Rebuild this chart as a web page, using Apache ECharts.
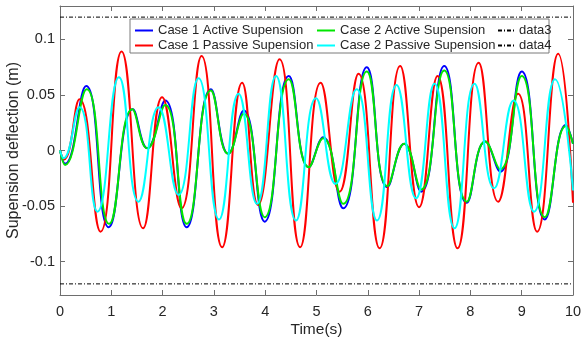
<!DOCTYPE html>
<html>
<head>
<meta charset="utf-8">
<script src="https://cdn.jsdelivr.net/npm/echarts@6/dist/echarts.min.js"></script>
<style>html,body{margin:0;padding:0;background:#fff}#c{width:582px;height:342px}</style>
</head>
<body>
<div id="c"></div>
<script>
// [time (s), deflection (m)]
const case1Active = [[0,0],[0.10,-0.012],[0.51,0.058],[0.95,-0.069],[1.42,0.037],[1.70,0.002],[2.05,0.045],[2.47,-0.069],[2.94,0.055],[3.28,-0.003],[3.58,0.036],[3.99,-0.064],[4.46,0.067],[4.85,-0.015],[5.13,0.012],[5.52,-0.052],[5.98,0.075],[6.38,-0.033],[6.71,0.006],[7.04,-0.037],[7.49,0.076],[7.93,-0.047],[8.29,0.008],[8.58,-0.019],[9.00,0.071],[9.45,-0.062],[9.86,0.023],[10,0.006]];
const case1Passive = [[0,0],[0.08,-0.008],[0.38,0.046],[0.79,-0.073],[1.20,0.089],[1.62,-0.070],[1.99,0.048],[2.37,-0.052],[2.76,0.085],[3.16,-0.087],[3.55,0.061],[3.86,-0.049],[4.28,0.082],[4.68,-0.087],[5.08,0.061],[5.45,-0.037],[5.82,0.069],[6.23,-0.088],[6.63,0.076],[7.00,-0.051],[7.36,0.067],[7.75,-0.088],[8.16,0.079],[8.54,-0.046],[8.93,0.051],[9.30,-0.073],[9.71,0.087],[10,-0.047]];
const case2Active = [[0,0],[0.10,-0.013],[0.52,0.055],[0.96,-0.066],[1.41,0.037],[1.70,0.002],[2.05,0.041],[2.47,-0.066],[2.94,0.054],[3.28,-0.003],[3.58,0.033],[3.99,-0.060],[4.46,0.064],[4.85,-0.015],[5.13,0.011],[5.52,-0.048],[5.98,0.071],[6.38,-0.032],[6.71,0.006],[7.04,-0.035],[7.49,0.072],[7.93,-0.046],[8.29,0.008],[8.58,-0.017],[9.00,0.067],[9.45,-0.060],[9.86,0.022],[10,0.006]];
const case2Passive = [[0,0],[0.07,-0.007],[0.38,0.039],[0.73,-0.055],[1.15,0.066],[1.53,-0.046],[1.92,0.039],[2.31,-0.040],[2.70,0.065],[3.10,-0.062],[3.48,0.051],[3.84,-0.048],[4.21,0.067],[4.60,-0.063],[4.99,0.047],[5.37,-0.030],[5.78,0.055],[6.18,-0.063],[6.56,0.059],[6.94,-0.043],[7.30,0.060],[7.69,-0.070],[8.08,0.060],[8.46,-0.034],[8.84,0.045],[9.24,-0.055],[9.65,0.064],[10,-0.036]];
const data3 = [[0,0.12],[10,0.12]];
const data4 = [[0,-0.12],[10,-0.12]];
const yTicks = [-0.1,-0.05,0,0.05,0.1];
const seriesNames = ['Case 1 Active Supension','Case 1 Passive Supension','Case 2 Active Supension','Case 2 Passive Supension','data3','data4'];

const FONT = 'Liberation Sans, Arial, sans-serif';
const TXT = '#262626';
const AX = '#6e6e6e';
const chart = echarts.init(document.getElementById('c'));
function curve(name, data, color){
  return {name, type:'line', data, smooth:0.5, symbol:'none', showSymbol:false,
    lineStyle:{color, width:2}, itemStyle:{color}, xAxisIndex:0, yAxisIndex:0};
}
function refLine(name, data){
  return {name, type:'line', data, symbol:'none', showSymbol:false,
    lineStyle:{color:'#000', width:1, type:[4,2,1,2]}, itemStyle:{color:'#000'}, xAxisIndex:0, yAxisIndex:0};
}
const legendBase = {orient:'vertical', top:19, itemHeight:14, itemGap:2,
  itemStyle:{opacity:0, borderWidth:0},
  textStyle:{fontFamily:FONT, fontSize:13, color:TXT}, selectedMode:false};
chart.setOption({
  animation:false,
  backgroundColor:'#fff',
  grid:{left:60, right:9, top:6, bottom:47, containLabel:false, outerBoundsMode:'none'},
  xAxis:[
    {type:'value', min:0, max:10, interval:1, position:'bottom',
     name:'Time(s)', nameLocation:'middle', nameGap:27, nameMoveOverlap:false,
     nameTextStyle:{fontFamily:FONT, fontSize:15.5, color:TXT},
     axisLine:{show:true, onZero:false, lineStyle:{color:AX}}, axisTick:{show:true, inside:true, length:5, lineStyle:{color:AX}},
     axisLabel:{fontFamily:FONT, fontSize:14.5, color:TXT, margin:9}, splitLine:{show:false}},
    {type:'value', min:0, max:10, interval:1, position:'top',
     axisLine:{show:true, onZero:false, lineStyle:{color:AX}}, axisTick:{show:true, inside:true, length:5, lineStyle:{color:AX}},
     axisLabel:{show:false}, splitLine:{show:false}}
  ],
  yAxis:[
    {type:'value', min:-0.13, max:0.13, position:'left',
     name:'Supension deflection (m)', nameLocation:'middle', nameGap:38, nameMoveOverlap:false,
     nameTextStyle:{fontFamily:FONT, fontSize:16, color:TXT},
     axisLine:{show:true, onZero:false, lineStyle:{color:AX}},
     axisTick:{show:true, inside:true, length:5, lineStyle:{color:AX}, customValues:yTicks},
     axisLabel:{fontFamily:FONT, fontSize:14.5, color:TXT, margin:5, customValues:yTicks},
     splitLine:{show:false}},
    {type:'value', min:-0.13, max:0.13, position:'right',
     axisLine:{show:true, onZero:false, lineStyle:{color:AX}},
     axisTick:{show:true, inside:true, length:5, lineStyle:{color:AX}, customValues:yTicks},
     axisLabel:{show:false, customValues:yTicks}, splitLine:{show:false}}
  ],
  graphic:[{type:'rect', shape:{x:130, y:19, width:419, height:34}, z:3,
    style:{fill:'#fff', stroke:'#7a7a7a', lineWidth:1}}],
  legend:[
    Object.assign({left:129, itemWidth:18, data:[seriesNames[0], seriesNames[1]]}, legendBase),
    Object.assign({left:311, itemWidth:18, data:[seriesNames[2], seriesNames[3]]}, legendBase),
    Object.assign({left:492, itemWidth:16, data:[seriesNames[4], seriesNames[5]]}, legendBase)
  ],
  series:[
    curve(seriesNames[0], case1Active, '#0000ff'),
    curve(seriesNames[1], case1Passive, '#ff0000'),
    curve(seriesNames[2], case2Active, '#00e600'),
    curve(seriesNames[3], case2Passive, '#00ffff'),
    refLine(seriesNames[4], data3),
    refLine(seriesNames[5], data4)
  ]
});
</script>
</body>
</html>
